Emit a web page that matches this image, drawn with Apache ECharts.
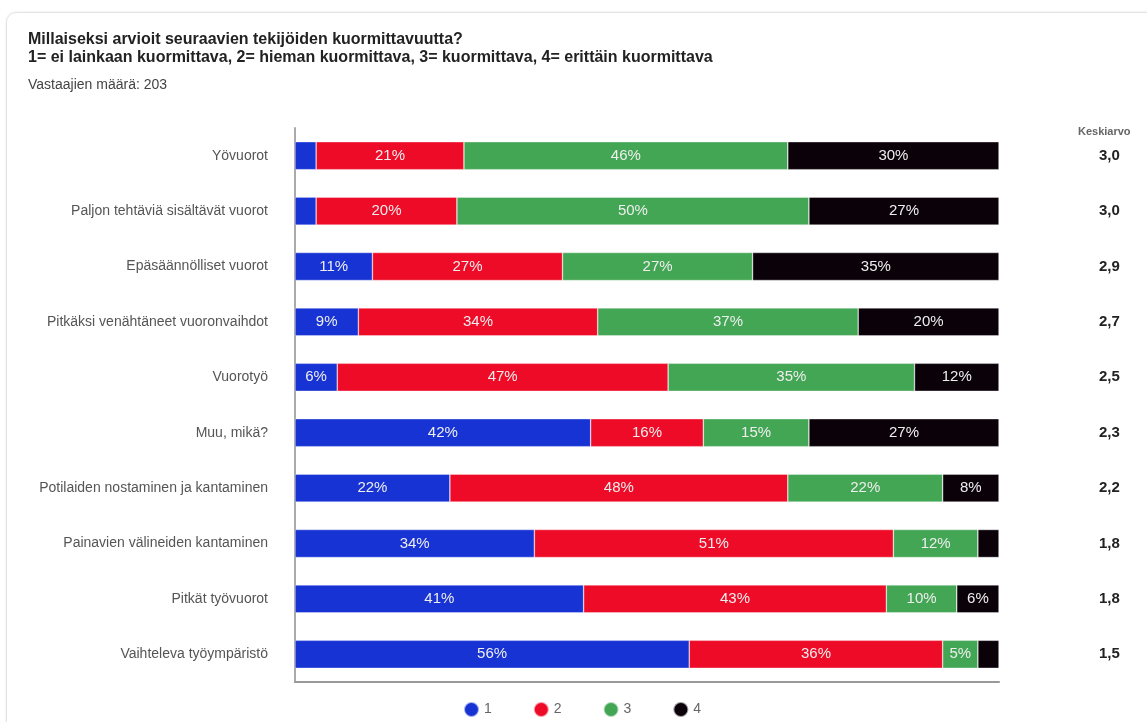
<!DOCTYPE html>
<html><head><meta charset="utf-8">
<script src="https://cdn.jsdelivr.net/npm/echarts@6/dist/echarts.min.js"></script>
<style>
html,body{margin:0;padding:0;background:#fff;width:1147px;height:722px;overflow:hidden;font-family:"Liberation Sans",Arial,sans-serif;}
#card{position:absolute;left:6px;top:12px;width:1180px;height:760px;border:1px solid #e3e3e3;border-radius:10px;box-shadow:0 0 3px rgba(0,0,0,0.08);}
#chart{position:absolute;left:0;top:0;width:1147px;height:722px;}
</style></head>
<body>
<div id="card"></div>
<div id="chart"></div>
<script>
const categories = ["Yövuorot","Paljon tehtäviä sisältävät vuorot","Epäsäännölliset vuorot","Pitkäksi venähtäneet vuoronvaihdot","Vuorotyö","Muu, mikä?","Potilaiden nostaminen ja kantaminen","Painavien välineiden kantaminen","Pitkät työvuorot","Vaihteleva työympäristö"];
const s1 = [3,3,11,9,6,42,22,34,41,56];
const s2 = [21,20,27,34,47,16,48,51,43,36];
const s3 = [46,50,27,37,35,15,22,12,10,5];
const s4 = [30,27,35,20,12,27,8,3,6,3];
const averages = ["3,0","3,0","2,9","2,7","2,5","2,3","2,2","1,8","1,8","1,5"];
const seriesNames = ["1","2","3","4"];
const colors = ["#1733d4","#ee0b27","#43a654","#0b0209"];

const chart = echarts.init(document.getElementById('chart'));
const mk = (name, data, i) => ({
  name, type:'bar', stack:'all', data, barWidth:28,
  itemStyle:{color:colors[i], borderColor:'rgba(255,255,255,0.6)', borderWidth:0.6},
  label:{show:true, position:'inside', color:'#eeeeee', fontSize:15, fontFamily:'Liberation Sans',
    formatter:p => p.value >= 5 ? p.value + '%' : ''}
});
chart.setOption({
  animation:false,
  textStyle:{fontFamily:'Liberation Sans'},
  title:[
    {text:'Millaiseksi arvioit seuraavien tekijöiden kuormittavuutta?\n1= ei lainkaan kuormittava, 2= hieman kuormittava, 3= kuormittava, 4= erittäin kuormittava',
     left:23, top:26, textStyle:{fontSize:16, fontWeight:'bold', color:'#222', lineHeight:18, fontFamily:'Liberation Sans'}},
    {text:'Vastaajien määrä: 203', left:23, top:73, textStyle:{fontSize:14, fontWeight:'normal', color:'#444', fontFamily:'Liberation Sans'}},
    {text:'Keskiarvo', left:1073, top:121, textStyle:{fontSize:11, fontWeight:'bold', color:'#666', fontFamily:'Liberation Sans'}}
  ],
  legend:{data:seriesNames, bottom:-1, left:458, icon:'circle', itemWidth:15, itemHeight:15, itemGap:41,
    textStyle:{color:'#666', fontSize:14}},
  grid:{left:295, right:148, top:128, bottom:40},
  xAxis:{type:'value', min:0, max:100, axisLabel:{show:false}, splitLine:{show:false},
    axisLine:{show:true, lineStyle:{color:'#999', width:2}}, axisTick:{show:false}},
  yAxis:[
    {type:'category', data:categories, inverse:true, axisTick:{show:false},
     axisLine:{show:true, lineStyle:{color:'#aaa', width:2}},
     axisLabel:{color:'#555', fontSize:14, margin:27}},
    {type:'category', data:averages, inverse:true, position:'right', axisTick:{show:false},
     axisLine:{show:false}, axisLabel:{color:'#222', fontSize:15, fontWeight:'bold', margin:100}}
  ],
  series:[mk('1',s1,0),mk('2',s2,1),mk('3',s3,2),mk('4',s4,3)]
});
</script>
</body></html>
